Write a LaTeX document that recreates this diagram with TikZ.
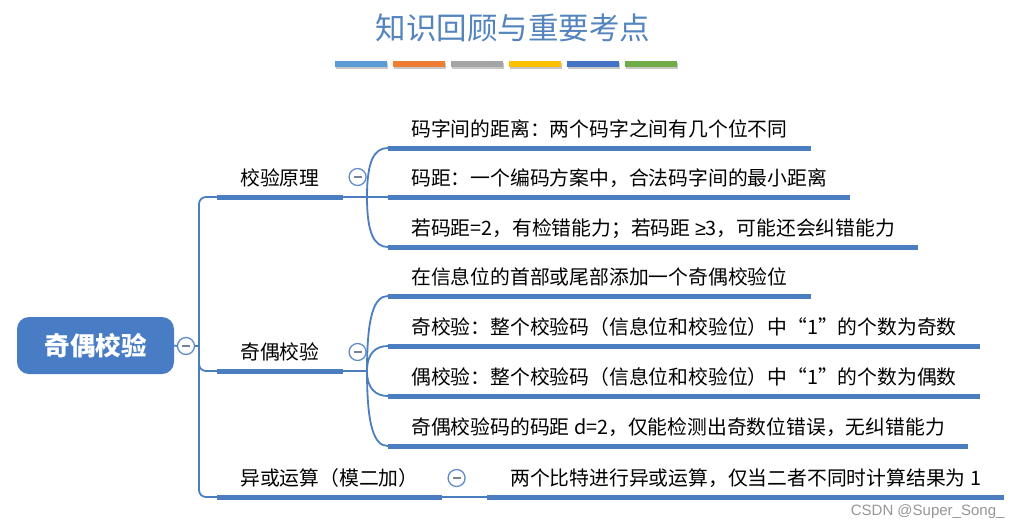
\documentclass[tikz,border=0pt]{standalone}
\usepackage{fontspec}
\usepackage{xcolor}
\usepackage{tikz}
\setmainfont{Noto Sans CJK SC}
\newfontfamily\wmfont{Liberation Sans}
\definecolor{mapblue}{RGB}{74,126,193}
\definecolor{rootblue}{RGB}{72,124,196}
\definecolor{titleblue}{RGB}{84,132,190}
\definecolor{foldblue}{RGB}{96,140,200}
\definecolor{foldgray}{RGB}{120,130,150}
\definecolor{wmgray}{RGB}{150,150,150}
\definecolor{t1}{RGB}{91,155,213}
\definecolor{t2}{RGB}{237,125,49}
\definecolor{t3}{RGB}{165,165,165}
\definecolor{t4}{RGB}{255,192,0}
\definecolor{t5}{RGB}{68,114,196}
\definecolor{t6}{RGB}{112,173,71}

\begin{document}
\begin{tikzpicture}[x=1pt,y=-1pt,
  link/.style={draw=mapblue,line width=1.8pt},
  bar/.style={draw=mapblue,line width=5pt},
  leaf/.style={anchor=south west,inner xsep=23pt,inner ysep=0pt,text height=15pt,text depth=11pt,font=\fontsize{19.8}{24}\selectfont},
  fold/.style={circle,draw=foldblue,fill=white,line width=1.3pt,minimum size=17pt,inner sep=0pt,
    path picture={\draw[foldgray,line width=1.2pt] ([xshift=-4pt]path picture bounding box.center) -- ([xshift=4pt]path picture bounding box.center);}}]
  \fill[white] (0,0) rectangle (1025,531);
  \useasboundingbox (0,0) rectangle (1025,531);
  \node[font=\fontsize{30.5}{36}\selectfont,text=titleblue] (title) at (513,28) {知识回顾与重要考点};
  \foreach \c [count=\i from 0] in {t1,t2,t3,t4,t5,t6} {
    \fill[black!22] (336+58*\i,62.5) rectangle ++(52,6);
    \fill[\c] (335+58*\i,61) rectangle ++(52,6);
  }
  \node[rectangle,rounded corners=12pt,fill=rootblue,text=white,minimum width=157pt,minimum height=57pt,font=\fontsize{25.5}{30}\selectfont\bfseries] (root) at (95.5,345.5) {奇偶校验};
  \node[fold] (f0) at (186,346) {};
  \node[leaf] (b1) at (217,197) {校验原理};
  \node[leaf] (b2) at (217,371) {奇偶校验};
  \node[leaf] (b3) at (217,497) {异或运算（模二加）};
  \node[fold] (f1) at ([xshift=15pt,yshift=20pt]b1.south east) {};
  \node[fold] (f2) at ([xshift=15pt,yshift=19pt]b2.south east) {};
  \node[fold] (f3) at ([xshift=15pt,yshift=19pt]b3.south east) {};
  \coordinate (trunk) at (199,346);
  \coordinate (k1) at (367,197);
  \coordinate (k2) at (367,371);
  \node[leaf] (c11) at (388,148) {码字间的距离：两个码字之间有几个位不同};
  \node[leaf] (c12) at (388,197) {码距：一个编码方案中，合法码字间的最小距离};
  \node[leaf] (c13) at (388,247) {若码距=2，有检错能力；若码距 {\wmfont ≥}3，可能还会纠错能力};
  \node[leaf] (c21) at (388,296) {在信息位的首部或尾部添加一个奇偶校验位};
  \node[leaf] (c22) at (388,346) {奇校验：整个校验码（信息位和校验位）中“1”的个数为奇数};
  \node[leaf] (c23) at (388,396) {偶校验：整个校验码（信息位和校验位）中“1”的个数为偶数};
  \node[leaf] (c24) at (388,446) {奇偶校验码的码距 d=2，仅能检测出奇数位错误，无纠错能力};
  \node[leaf] (c31) at (487,497) {两个比特进行异或运算，仅当二者不同时计算结果为 1};
  \node[font=\wmfont\fontsize{15}{18}\selectfont,text=wmgray,anchor=east] (wm) at (1008,512) {CSDN @Super\_Song\_};
  \foreach \n in {b1,b2,b3,c11,c12,c13,c21,c22,c23,c24,c31}
    \draw[bar] (\n.south west) -- (\n.south east);
  \draw[link] (root.east) -- (f0.west);
  \draw[link] (f0.east) -- (trunk);
  \draw[link,rounded corners=7pt] (trunk) |- (b1.south west);
  \draw[link,rounded corners=7pt] (trunk) |- (b2.south west);
  \draw[link,rounded corners=7pt] (trunk) |- (b3.south west);
  \draw[link] (b1.south east) -- (k1) -- (c12.south west);
  \draw[link] (k1) .. controls +(0,-36) and +(-14,0) .. (c11.south west);
  \draw[link] (k1) .. controls +(0,36) and +(-14,0) .. (c13.south west);
  \draw[link] (b2.south east) -- (k2);
  \draw[link] (k2) .. controls +(0,-55) and +(-14,0) .. (c21.south west);
  \draw[link] (k2) .. controls +(0,-18) and +(-12,0) .. (c22.south west);
  \draw[link] (k2) .. controls +(0,18) and +(-12,0) .. (c23.south west);
  \draw[link] (k2) .. controls +(0,55) and +(-14,0) .. (c24.south west);
  \draw[link] (b3.south east) -- (c31.south west);
\end{tikzpicture}
\end{document}
